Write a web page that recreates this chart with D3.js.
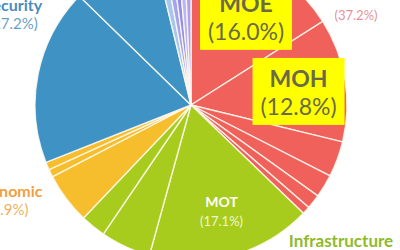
<!DOCTYPE html>
<html>
<head>
<meta charset="utf-8">
<script src="https://cdn.jsdelivr.net/npm/d3@7"></script>
<style>
  body { margin: 0; background: #fff; }
  svg { display: block; font-family: Lato, "Noto Sans", sans-serif; }
</style>
</head>
<body>
<div id="chart"></div>
<script>
var svgWidth = 400;
var svgHeight = 250;

// ministries in clockwise order from 12 o'clock
var ministries = ["MOE", "MOH", "Social 3", "Social 4", "Social 5", "Social 6",
  "MOT", "Infrastructure 2", "Infrastructure 3",
  "Economic 1", "Economic 2", "Economic 3",
  "Security 1", "Security 2",
  "Other 1", "Other 2", "Other 3", "Other 4", "Other 5"];
var groups = ["Social", "Social", "Social", "Social", "Social", "Social",
  "Infrastructure", "Infrastructure", "Infrastructure",
  "Economic", "Economic", "Economic",
  "Security", "Security",
  "Other", "Other", "Other", "Other", "Other"];
var shares = [16.0, 12.8, 3.7, 2.4, 1.5, 0.8,
  17.1, 5.2, 2.6,
  5.3, 0.8, 0.8,
  18.3, 8.9,
  0.9, 0.8, 0.7, 0.7, 0.7];

var groupNames = ["Social", "Infrastructure", "Economic", "Security"];
var groupColors = ["#f0615b", "#a8cc1e", "#f6bd2c", "#3e92c4"];
var groupTextColors = ["#e07a88", "#8fba2a", "#f0a040", "#4a8cbd"];
var otherColors = ["#a6c6ee", "#a3a3f0", "#958de2", "#b9b5f6", "#aca2ec"];

var boxedLabels = ["MOE", "MOH"];
var plainLabels = ["MOT"];

var data = ministries.map(function(m, i) {
  return {name: m, group: groups[i], share: shares[i]};
});

var cx = 191, cy = 105, radius = 156;

var svg = d3.select("#chart")
  .append("svg")
  .attr("width", svgWidth)
  .attr("height", svgHeight);

var chart = svg.append("g")
  .attr("transform", "translate(" + cx + "," + cy + ")");

var groupColor = d3.scaleOrdinal().domain(groupNames).range(groupColors);
var otherColor = d3.scaleOrdinal()
  .domain(ministries.filter(function(m, i) { return groups[i] === "Other"; }))
  .range(otherColors);

var pie = d3.pie()
  .sort(null)
  .value(function(d) { return d.share; });

var arc = d3.arc().innerRadius(0).outerRadius(radius);
var labelArc = d3.arc().innerRadius(108).outerRadius(108);

var arcs = pie(data);

chart.selectAll("path")
  .data(arcs)
  .enter()
  .append("path")
  .attr("d", arc)
  .attr("fill", function(d) {
    return d.data.group === "Other" ? otherColor(d.data.name) : groupColor(d.data.group);
  })
  .attr("stroke", "#fffaf0")
  .attr("stroke-opacity", 0.85)
  .attr("stroke-width", 1.4);

var pct = function(v) { return "(" + d3.format(".1f")(v) + "%)"; };

// small nudges so the labels sit like the original
var nudge = {MOE: [3, 6], MOH: [1, 4], MOT: [2, 5]};

// yellow boxed callouts
var boxed = chart.selectAll(".boxed")
  .data(arcs.filter(function(d) { return boxedLabels.indexOf(d.data.name) >= 0; }))
  .enter()
  .append("g")
  .attr("class", "boxed")
  .attr("transform", function(d) {
    var c = labelArc.centroid(d), n = nudge[d.data.name];
    return "translate(" + (c[0] + n[0]) + "," + (c[1] + n[1]) + ")";
  });

boxed.append("rect")
  .attr("x", -46).attr("y", -33.5)
  .attr("width", 92).attr("height", 67)
  .attr("fill", "#ffff00");

boxed.append("text")
  .attr("y", -4.5)
  .attr("text-anchor", "middle")
  .attr("font-size", "23px")
  .attr("font-weight", "bold")
  .attr("fill", "#6b6a48")
  .text(function(d) { return d.data.name; });

boxed.append("text")
  .attr("y", 23.5)
  .attr("text-anchor", "middle")
  .attr("font-size", "23px")
  .attr("fill", "#6b6a48")
  .text(function(d) { return pct(d.data.share); });

// plain label inside slice
var plain = chart.selectAll(".plain")
  .data(arcs.filter(function(d) { return plainLabels.indexOf(d.data.name) >= 0; }))
  .enter()
  .append("g")
  .attr("class", "plain")
  .attr("transform", function(d) {
    var c = labelArc.centroid(d), n = nudge[d.data.name];
    return "translate(" + (c[0] + n[0]) + "," + (c[1] + n[1]) + ")";
  });

plain.append("text")
  .attr("y", -7)
  .attr("text-anchor", "middle")
  .attr("font-size", "14px")
  .attr("font-weight", "bold")
  .attr("fill", "#ffffff")
  .text(function(d) { return d.data.name; });

plain.append("text")
  .attr("y", 12)
  .attr("text-anchor", "middle")
  .attr("font-size", "13px")
  .attr("fill", "#eef6d2")
  .text(function(d) { return pct(d.data.share); });

// group labels outside the pie
var groupTotals = groupNames.map(function(g) {
  return d3.sum(data.filter(function(d) { return d.group === g; }), function(d) { return d.share; });
});
var groupPos = {Social: [356, -3, 20], Infrastructure: [341, 247, 266],
  Economic: [8, 197, 215], Security: [13, 11, 29]};
var groupSize = {Social: 14, Infrastructure: 17, Economic: 16, Security: 16};

groupNames.forEach(function(g, i) {
  var p = groupPos[g];
  var t = svg.append("g").attr("class", "group-label");
  t.append("text")
    .attr("x", p[0]).attr("y", p[1])
    .attr("text-anchor", "middle")
    .attr("font-size", groupSize[g] + "px")
    .attr("font-weight", "bold")
    .attr("fill", groupTextColors[i])
    .text(g);
  t.append("text")
    .attr("x", p[0]).attr("y", p[2])
    .attr("text-anchor", "middle")
    .attr("font-size", (groupSize[g] - 1) + "px")
    .attr("fill", groupTextColors[i])
    .attr("fill-opacity", 0.85)
    .text(pct(groupTotals[i]));
});
</script>
</body>
</html>
